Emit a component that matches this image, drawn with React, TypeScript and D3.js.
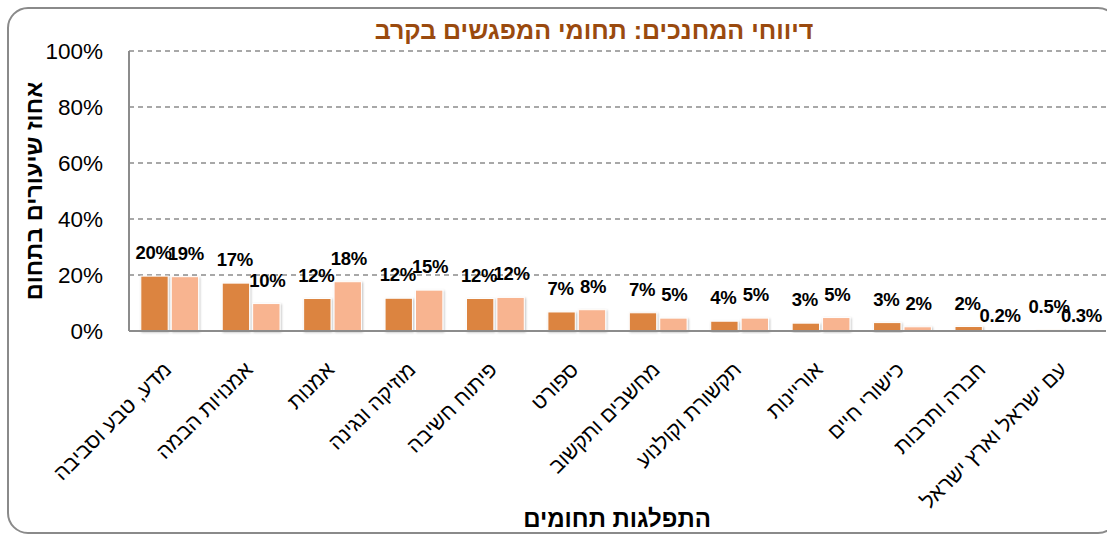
import { useEffect, useRef } from 'react';
import * as d3 from 'd3';

const categories = [
  'מדע, טבע וסביבה',
  'אמנויות הבמה',
  'אמנות',
  'מוזיקה ונגינה',
  'פיתוח חשיבה',
  'ספורט',
  'מחשבים ותקשוב',
  'תקשורת וקולנוע',
  'אוריינות',
  'כישורי חיים',
  'חברה ותרבות',
  'עם ישראל וארץ ישראל',
];

// two series, values in percent
const seriesA = [19.6, 17.1, 11.6, 11.7, 11.6, 6.8, 6.5, 3.5, 2.8, 3.0, 1.6, 0.5];
const seriesB = [19.4, 9.8, 17.6, 14.6, 12.0, 7.6, 4.6, 4.6, 4.8, 1.5, 0.2, 0.3];

const yTicks = [0, 20, 40, 60, 80, 100];

const title = 'דיווחי המחנכים: תחומי המפגשים בקרב';
const yTitle = 'אחוז שיעורים בתחום';
const xTitle = 'התפלגות תחומים';

const W = 1107;
const H = 534;
const FONT = '"Liberation Sans", "DejaVu Sans", sans-serif';

function fmt(v: number) {
  return v < 1 ? `${v.toFixed(1)}%` : `${Math.round(v)}%`;
}

export default function App() {
  const svgRef = useRef<SVGSVGElement>(null);

  useEffect(() => {
    if (!svgRef.current) return;
    const svg = d3.select(svgRef.current);
    svg.selectAll('*').remove();

    const margin = { top: 51, left: 129, right: 1, bottom: 203 };
    const plotRight = W - margin.right;
    const plotBottom = H - margin.bottom;

    // frame
    svg.append('rect')
      .attr('x', 8).attr('y', 8)
      .attr('width', 1110).attr('height', 525)
      .attr('rx', 20)
      .attr('fill', '#fff')
      .attr('stroke', '#8a8a8a')
      .attr('stroke-width', 2);

    const defs = svg.append('defs');
    const f = defs.append('filter').attr('id', 'shadow')
      .attr('x', '-20%').attr('y', '-20%').attr('width', '140%').attr('height', '140%');
    f.append('feDropShadow')
      .attr('dx', 1).attr('dy', 1).attr('stdDeviation', 1.2)
      .attr('flood-color', '#000').attr('flood-opacity', 0.25);

    const x0 = d3.scaleBand<string>()
      .domain(categories)
      .range([margin.left, plotRight])
      .paddingInner(0.29)
      .paddingOuter(0.145);

    const x1 = d3.scaleBand<string>()
      .domain(['a', 'b'])
      .range([0, x0.bandwidth()])
      .paddingInner(0.1);

    const y = d3.scaleLinear().domain([0, 100]).range([plotBottom, margin.top]);

    // gridlines
    svg.append('g')
      .selectAll('line')
      .data(yTicks.filter(t => t > 0))
      .enter()
      .append('line')
      .attr('x1', margin.left).attr('x2', plotRight)
      .attr('y1', d => y(d)).attr('y2', d => y(d))
      .attr('stroke', '#8c8c8c')
      .attr('stroke-width', 1.3)
      .attr('stroke-dasharray', '5,4');

    // y tick labels
    svg.append('g')
      .selectAll('text')
      .data(yTicks)
      .enter()
      .append('text')
      .attr('x', 103)
      .attr('y', d => y(d))
      .attr('dy', '0.35em')
      .attr('text-anchor', 'end')
      .style('font-family', FONT)
      .style('font-size', '22.5px')
      .attr('fill', '#000')
      .text(d => `${d}%`);

    // bars
    const rows = categories.map((c, i) => ({ c, a: seriesA[i], b: seriesB[i] }));
    const groups = svg.append('g')
      .selectAll('g')
      .data(rows)
      .enter()
      .append('g')
      .attr('transform', d => `translate(${x0(d.c)},0)`);

    const colors: Record<string, string> = { a: '#dc843f', b: '#f8b490' };

    groups.selectAll('rect')
      .data(d => [{ k: 'a', v: d.a }, { k: 'b', v: d.b }])
      .enter()
      .append('rect')
      .attr('x', d => x1(d.k) || 0)
      .attr('y', d => y(d.v))
      .attr('width', x1.bandwidth())
      .attr('height', d => plotBottom - y(d.v))
      .attr('fill', d => colors[d.k])
      .attr('stroke', '#fff')
      .attr('stroke-width', 1)
      .attr('filter', 'url(#shadow)');

    // labels of the tiny light bars sit lower, as in the original
    groups.selectAll('text')
      .data(d => [{ k: 'a', v: d.a }, { k: 'b', v: d.b }])
      .enter()
      .append('text')
      .attr('x', d => (x1(d.k) || 0) + x1.bandwidth() / 2 + (d.k === 'a' ? -1 : 1))
      .attr('y', d => y(d.v) - (d.k === 'b' && d.v < 1 ? 8 : 17))
      .attr('text-anchor', 'middle')
      .style('font-family', FONT)
      .style('font-size', '18.5px')
      .style('font-weight', 'bold')
      .style('letter-spacing', '-0.3px')
      .attr('fill', '#000')
      .text(d => fmt(d.v));

    // axes lines
    svg.append('line')
      .attr('x1', margin.left).attr('x2', margin.left)
      .attr('y1', margin.top).attr('y2', plotBottom)
      .attr('stroke', '#8c8c8c').attr('stroke-width', 2);
    svg.append('line')
      .attr('x1', margin.left).attr('x2', plotRight)
      .attr('y1', plotBottom).attr('y2', plotBottom)
      .attr('stroke', '#8c8c8c').attr('stroke-width', 2);

    // x tick labels
    svg.append('g')
      .selectAll('text')
      .data(categories)
      .enter()
      .append('text')
      .attr('transform', d => `translate(${(x0(d) || 0) + x0.bandwidth() / 2 + 3},${plotBottom + 40}) rotate(-45)`)
      .attr('text-anchor', 'end')
      .style('font-family', FONT)
      .style('font-size', '21px')
      .attr('fill', '#000')
      .text(d => d);

    // titles
    svg.append('text')
      .attr('x', 594).attr('y', 39)
      .attr('text-anchor', 'middle')
      .style('font-family', FONT)
      .style('font-size', '25px')
      .style('font-weight', 'bold')
      .attr('fill', '#9a4a0e')
      .text(title);

    svg.append('text')
      .attr('transform', `translate(42,191) rotate(-90)`)
      .attr('text-anchor', 'middle')
      .style('font-family', FONT)
      .style('font-size', '23.5px')
      .style('font-weight', 'bold')
      .attr('fill', '#000')
      .text(yTitle);

    svg.append('text')
      .attr('x', 617).attr('y', 527)
      .attr('text-anchor', 'middle')
      .style('font-family', FONT)
      .style('font-size', '24px')
      .style('font-weight', 'bold')
      .attr('fill', '#000')
      .text(xTitle);
  }, []);

  return (
    <svg
      ref={svgRef}
      width={W}
      height={H}
      style={{ position: 'absolute', left: 0, top: 0, display: 'block' }}
    />
  );
}
